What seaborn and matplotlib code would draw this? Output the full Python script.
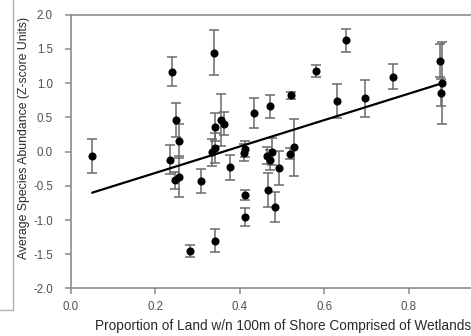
import numpy as np
import pandas as pd
import matplotlib
matplotlib.use("Agg")
import matplotlib.pyplot as plt
import seaborn as sns

# proportion of wetland shore, mean abundance (z-score) and error bar half-width
wetland_prop = [0.050, 0.234, 0.238, 0.246, 0.248, 0.255, 0.256, 0.282, 0.308, 0.334,
                0.338, 0.340, 0.341, 0.341, 0.355, 0.362, 0.376, 0.409, 0.413, 0.413,
                0.413, 0.433, 0.463, 0.467, 0.470, 0.472, 0.475, 0.484, 0.493, 0.518,
                0.520, 0.528, 0.580, 0.630, 0.651, 0.697, 0.763, 0.873, 0.878, 0.877]
abundance = [-0.06, -0.12, 1.17, -0.42, 0.46, 0.15, -0.37, -1.455, -0.43, -0.01,
             1.445, 0.36, 0.05, -1.30, 0.46, 0.41, -0.23, -0.015, 0.035, -0.63,
             -0.95, 0.56, -0.06, -0.56, -0.12, 0.66, 0.0, -0.81, -0.24, -0.03,
             0.82, 0.06, 1.18, 0.745, 1.625, 0.78, 1.095, 1.325, 1.0, 0.86]
err = [0.25, 0.21, 0.21, 0.12, 0.25, 0.25, 0.30, 0.09, 0.17, 0.20,
       0.33, 0.20, 0.22, 0.17, 0.38, 0.17, 0.18, 0.12, 0.12, 0.07,
       0.13, 0.22, 0.12, 0.25, 0.15, 0.17, 0.20, 0.22, 0.25, 0.08,
       0.05, 0.41, 0.09, 0.25, 0.17, 0.27, 0.18, 0.24, 0.60, 0.20]

# fitted line
fit_slope = 1.93
fit_intercept = -0.697

df = pd.DataFrame({"x": wetland_prop, "y": abundance, "err": err})

sns.set_style("ticks")
plt.rcParams["font.family"] = ["Liberation Sans", "DejaVu Sans"]

fig = plt.figure(figsize=(4.71, 3.36), dpi=100)
ax = fig.add_axes([0.1507, 0.1414, 0.8493, 0.8148])

# error bars first, then the points
ax.errorbar(df["x"], df["y"], yerr=df["err"], fmt="none", ecolor="#6a6a6a",
            elinewidth=1.1, capsize=3.5, capthick=1.1, zorder=2)
sns.scatterplot(data=df, x="x", y="y", color="black", s=34, edgecolor="black",
                linewidth=0, ax=ax, zorder=3)

# regression line over the range of the data
line_x = np.array([min(wetland_prop), max(wetland_prop)])
sns.lineplot(x=line_x, y=fit_intercept + fit_slope * line_x, color="black",
             linewidth=1.6, ax=ax, zorder=4)

ax.set_xlim(0, 0.947)
ax.set_ylim(-2.0, 2.0)
ax.set_xticks([0.0, 0.2, 0.4, 0.6, 0.8])
ax.set_yticks(np.arange(-2.0, 2.01, 0.5))
ax.xaxis.set_major_formatter(matplotlib.ticker.FormatStrFormatter("%.1f"))
ax.yaxis.set_major_formatter(matplotlib.ticker.FormatStrFormatter("%.1f"))

for side in ["left", "bottom", "top"]:
    ax.spines[side].set_color("#8c8c8c")
    ax.spines[side].set_linewidth(1.2)
ax.spines["right"].set_visible(False)
ax.tick_params(direction="out", length=4, width=1.1, color="#8c8c8c",
               labelsize=8.3, labelcolor="#505050")
ax.tick_params(axis="x", pad=5)
ax.tick_params(axis="y", pad=9)

ax.set_xlabel("Proportion of Land w/n 100m of Shore Comprised of Wetlands",
              fontsize=9.8, color="#2a2a2a")
ax.xaxis.set_label_coords(0.529, -0.136)
ax.set_ylabel("Average Species Abundance (Z-score Units)", fontsize=8.8,
              color="#2a2a2a")
ax.yaxis.set_label_coords(-0.1175, 0.551)
ax.xaxis.label.set_va("center")
ax.yaxis.label.set_va("center")

# thin gray frame at the left edge of the picture
fig.add_artist(plt.Line2D([12.5 / 471, 12.5 / 471], [1, 1 - 310 / 336],
                          color="#b0b0b0", linewidth=1))
fig.add_artist(plt.Line2D([0, 12.5 / 471], [1 - 310 / 336, 1 - 310 / 336],
                          color="#b0b0b0", linewidth=1))

fig.savefig("out.png", dpi=100)
